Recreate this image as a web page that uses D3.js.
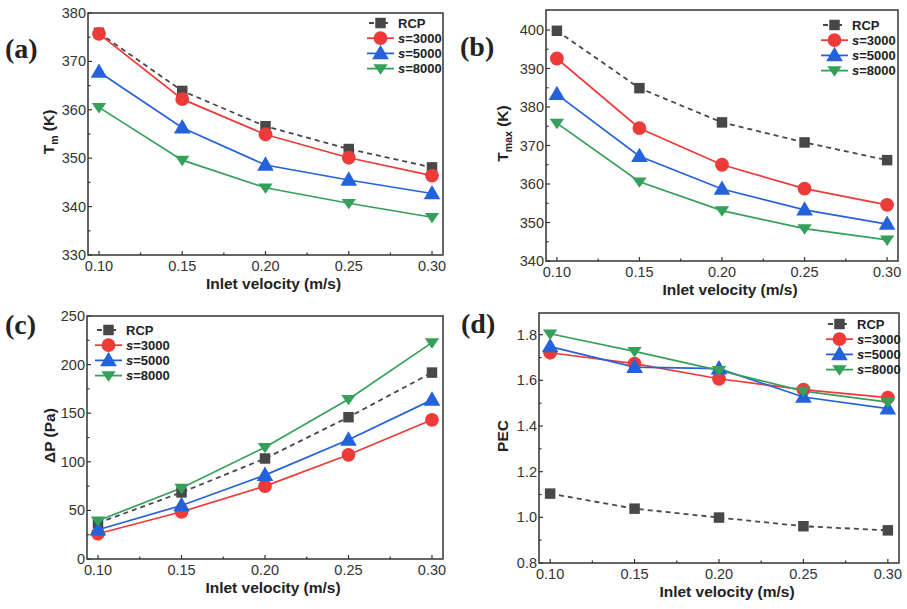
<!DOCTYPE html>
<html>
<head>
<meta charset="utf-8">
<script src="https://cdn.jsdelivr.net/npm/d3@7"></script>
<style>
  body { margin: 0; background: #fff; }
  svg { display: block; }
</style>
</head>
<body>
<div id="chart"></div>
<script>
// inlet velocity (m/s)
const velocity = [0.10, 0.15, 0.20, 0.25, 0.30];
const seriesNames = ["RCP", "3000", "5000", "8000"];

// (a) mean temperature Tm (K)
const tmRCP = [375.9, 363.9, 356.6, 351.9, 348.1];
const tm3000 = [375.7, 362.2, 354.9, 350.1, 346.4];
const tm5000 = [367.8, 356.3, 348.6, 345.5, 342.7];
const tm8000 = [360.5, 349.6, 343.9, 340.7, 337.8];

// (b) max temperature Tmax (K)
const tmaxRCP = [399.8, 384.9, 376.0, 370.8, 366.2];
const tmax3000 = [392.6, 374.5, 365.0, 358.8, 354.6];
const tmax5000 = [383.3, 367.2, 358.7, 353.3, 349.6];
const tmax8000 = [375.8, 360.6, 353.1, 348.4, 345.5];

// (c) pressure drop (Pa)
const dpRCP = [37, 68.5, 103.4, 145.9, 191.8];
const dp3000 = [26, 48.6, 75, 107.2, 143.2];
const dp5000 = [30.1, 55.1, 86.3, 122.6, 163.7];
const dp8000 = [39.4, 73, 115, 164.4, 222.6];

// (d) PEC
const pecRCP = [1.104, 1.038, 0.999, 0.961, 0.943];
const pec3000 = [1.721, 1.673, 1.607, 1.559, 1.524];
const pec5000 = [1.748, 1.658, 1.651, 1.527, 1.476];
const pec8000 = [1.804, 1.727, 1.644, 1.553, 1.505];

const xTicks = [0.10, 0.15, 0.20, 0.25, 0.30];
const tmTicks = [330, 340, 350, 360, 370, 380];
const tmaxTicks = [340, 350, 360, 370, 380, 390, 400];
const dpTicks = [0, 50, 100, 150, 200, 250];
const pecTicks = [0.8, 1.0, 1.2, 1.4, 1.6, 1.8];

const W = 907, H = 609;
const colors = {RCP: "#484848", "3000": "#ee3b39", "5000": "#2462dc", "8000": "#35a05a"};
const symbols = {RCP: d3.symbolSquare, "3000": d3.symbolCircle, "5000": d3.symbolTriangle, "8000": "down"};
const font = "'Liberation Sans', Arial, sans-serif";

const svg = d3.select("#chart").append("svg")
  .attr("width", W).attr("height", H);

const panels = [
  {label: "(a)", lx: 5, ly: 58, box: [88, 13, 443, 255], yDomain: [330, 380], yTicks: tmTicks,
   yMinor: 5, fmt: d3.format("d"), title: ["T", "m", " (K)"], tx: 54,
   data: [tmRCP, tm3000, tm5000, tm8000], legend: [367, 23]},
  {label: "(b)", lx: 460, ly: 56, box: [546, 10, 898, 261], yDomain: [340, 405.2], yTicks: tmaxTicks,
   yMinor: 5, fmt: d3.format("d"), title: ["T", "max", " (K)"], tx: 508,
   data: [tmaxRCP, tmax3000, tmax5000, tmax8000], legend: [821, 25]},
  {label: "(c)", lx: 5, ly: 334, box: [87, 316, 443, 559], yDomain: [0, 250], yTicks: dpTicks,
   yMinor: 25, fmt: d3.format("d"), title: ["ΔP (Pa)"], tx: 55,
   data: [dpRCP, dp3000, dp5000, dp8000], legend: [95, 330]},
  {label: "(d)", lx: 461, ly: 333, box: [539, 313, 899, 563], yDomain: [0.8, 1.895], yTicks: pecTicks,
   yMinor: 0.1, fmt: d3.format(".1f"), title: ["PEC"], tx: 508,
   data: [pecRCP, pec3000, pec5000, pec8000], legend: [826, 324]}
];

function marker(g, name, cx, cy) {
  const c = colors[name];
  if (name === "8000") {
    const s = 7.2;
    g.append("path")
      .attr("d", `M${cx - s},${cy - s * 0.6} L${cx + s},${cy - s * 0.6} L${cx},${cy + s * 0.85} Z`)
      .attr("fill", c);
  } else {
    const size = name === "RCP" ? 110 : (name === "3000" ? 150 : 120);
    g.append("path")
      .attr("d", d3.symbol().type(symbols[name]).size(size)())
      .attr("transform", `translate(${cx},${name === "5000" ? cy + 1 : cy})`)
      .attr("fill", c);
  }
}

panels.forEach(p => {
  const [x0, y0, x1, y1] = p.box;
  const x = d3.scaleLinear().domain([0.0934, 0.3066]).range([x0, x1]);
  const y = d3.scaleLinear().domain(p.yDomain).range([y1, y0]);
  const g = svg.append("g");

  // lines and markers
  seriesNames.forEach((name, si) => {
    const vals = p.data[si];
    const line = d3.line().x((d, i) => x(velocity[i])).y(d => y(d));
    g.append("path")
      .attr("d", line(vals))
      .attr("fill", "none")
      .attr("stroke", colors[name])
      .attr("stroke-width", name === "RCP" ? 1.8 : 1.7)
      .attr("stroke-dasharray", name === "RCP" ? "5,4" : null);
  });
  seriesNames.forEach((name, si) => {
    p.data[si].forEach((v, i) => marker(g, name, x(velocity[i]), y(v)));
  });

  // ticks (inward)
  const ax = svg.append("g").attr("stroke", "#333").attr("stroke-width", 1.2);
  xTicks.forEach(t => ax.append("line").attr("x1", x(t)).attr("x2", x(t)).attr("y1", y1).attr("y2", y1 - 4));
  d3.range(0.125, 0.30, 0.05).forEach(t => ax.append("line").attr("x1", x(t)).attr("x2", x(t)).attr("y1", y1).attr("y2", y1 - 2.5));
  p.yTicks.forEach(t => ax.append("line").attr("x1", x0).attr("x2", x0 + 4).attr("y1", y(t)).attr("y2", y(t)));
  p.yTicks.forEach(t => {
    const m = t + p.yMinor;
    if (y(m) > y0 + 1) ax.append("line").attr("x1", x0).attr("x2", x0 + 2.5).attr("y1", y(m)).attr("y2", y(m));
  });

  // frame
  svg.append("rect")
    .attr("x", x0).attr("y", y0).attr("width", x1 - x0).attr("height", y1 - y0)
    .attr("fill", "none").attr("stroke", "#333").attr("stroke-width", 1.5);

  // tick labels
  const tl = svg.append("g").attr("font-family", font).attr("font-size", 14.5).attr("fill", "#333");
  xTicks.forEach(t => tl.append("text").attr("x", x(t)).attr("y", y1 + 16)
    .attr("text-anchor", "middle").text(d3.format(".2f")(t)));
  p.yTicks.forEach(t => tl.append("text").attr("x", x0 - 2).attr("y", y(t) + 5)
    .attr("text-anchor", "end").text(p.fmt(t)));

  // axis titles
  svg.append("text")
    .attr("x", (x0 + x1) / 2 + 8).attr("y", y1 + 34)
    .attr("text-anchor", "middle").attr("font-family", font)
    .attr("font-weight", "bold").attr("font-size", 15.5).attr("fill", "#222")
    .text("Inlet velocity (m/s)");

  const yt = svg.append("text")
    .attr("transform", `translate(${p.tx},${(y0 + y1) / 2 - 2}) rotate(-90)`)
    .attr("text-anchor", "middle").attr("font-family", font)
    .attr("font-weight", "bold").attr("font-size", 15.5).attr("fill", "#222");
  if (p.title.length === 3) {
    yt.append("tspan").text(p.title[0]);
    yt.append("tspan").attr("font-size", 10.5).attr("dy", 4).text(p.title[1]);
    yt.append("tspan").attr("dy", -4).text(p.title[2]);
  } else {
    yt.text(p.title[0]);
  }

  // panel label
  svg.append("text")
    .attr("x", p.lx).attr("y", p.ly)
    .attr("font-family", "'Liberation Serif', 'Times New Roman', serif")
    .attr("font-weight", "bold").attr("font-size", 28).attr("fill", "#222")
    .text(p.label);

  // legend
  const [lx, ly] = p.legend;
  const lg = svg.append("g");
  seriesNames.forEach((name, si) => {
    const yy = ly + si * 15.2;
    lg.append("line")
      .attr("x1", name === "RCP" ? lx + 2 : lx).attr("x2", lx + 27)
      .attr("y1", yy).attr("y2", yy)
      .attr("stroke", colors[name]).attr("stroke-width", 1.8)
      .attr("stroke-dasharray", name === "RCP" ? "5,9" : null);
    marker(lg, name, lx + 13.5, yy);
    const t = lg.append("text")
      .attr("x", lx + 31).attr("y", yy + 4.5)
      .attr("font-family", font).attr("font-weight", "bold")
      .attr("font-size", 13).attr("fill", "#222");
    if (name === "RCP") {
      t.text("RCP");
    } else {
      t.append("tspan").attr("font-style", "italic").text("s");
      t.append("tspan").text("=" + name);
    }
  });
});
</script>
</body>
</html>
